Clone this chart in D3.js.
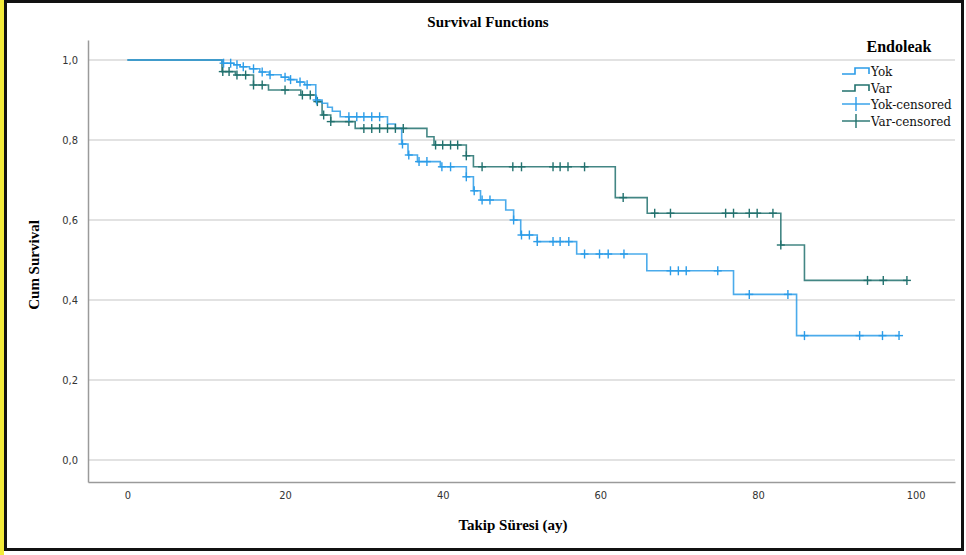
<!DOCTYPE html>
<html>
<head>
<meta charset="utf-8">
<script src="https://cdn.jsdelivr.net/npm/d3@7"></script>
<style>
  body { margin: 0; background: #fff; }
  .tick-label { font-family: 'Liberation Sans Narrow', 'DejaVu Sans Condensed', sans-serif; font-size: 11px; fill: #333; }
  .serif { font-family: 'Liberation Serif', 'DejaVu Serif', serif; fill: #000; }
  .legend-item { font-family: 'DejaVu Serif', 'Liberation Serif', serif; fill: #111; }
</style>
</head>
<body>
<svg id="chart" width="966" height="555"></svg>
<script>
// Yok group: event times and survival after each event
let yokTimes = [12.0, 13.5, 14.3, 15.5, 16.8, 18.0, 19.5, 20.5, 21.5, 22.5, 23.9, 24.7, 25.4, 26.0, 27.0,
                33.0, 34.0, 34.8, 35.6, 36.8, 39.7, 43.0, 43.9, 44.8, 48.0, 49.0, 49.9, 52.0, 57.0, 65.9, 76.9, 84.9];
let yokSurv = [0.992, 0.988, 0.983, 0.978, 0.970, 0.963, 0.957, 0.951, 0.945, 0.938, 0.900, 0.892, 0.882, 0.872, 0.858,
               0.840, 0.829, 0.790, 0.7625, 0.746, 0.733, 0.708, 0.673, 0.650, 0.625, 0.600, 0.5625, 0.546, 0.515, 0.473, 0.414, 0.311];
let yokCensored = [12.2, 13.1, 13.9, 14.7, 16.0, 17.1, 18.1, 20.0, 20.7, 21.9, 22.8, 24.0, 28.1, 29.1, 30.0, 31.0, 32.0,
                   34.9, 35.7, 37.0, 38.0, 39.9, 41.0, 43.0, 44.0, 45.0, 46.0, 49.0, 50.0, 51.0, 52.0, 54.0, 54.9, 56.0,
                   58.0, 59.9, 61.0, 63.0, 68.9, 69.9, 70.9, 74.9, 78.9, 83.8, 85.9, 92.9, 95.8, 97.9];

// Var group
let varTimes = [12.0, 13.7, 16.0, 17.9, 22.0, 23.9, 24.7, 25.8, 28.9, 38.0, 38.9, 43.0, 43.9, 61.9, 65.95, 82.9, 85.9];
let varSurv = [0.971, 0.9625, 0.9375, 0.925, 0.9125, 0.896, 0.8625, 0.846, 0.829, 0.808, 0.7875, 0.7605, 0.733,
               0.656, 0.617, 0.5375, 0.449];
let varCensored = [12.1, 12.9, 13.9, 15.0, 16.0, 17.1, 20.0, 22.2, 23.2, 24.1, 24.9, 25.8, 28.1, 30.0, 31.0, 32.0, 33.0,
                   34.0, 35.0, 39.1, 40.0, 41.0, 41.9, 43.0, 45.0, 48.9, 50.0, 54.0, 54.9, 55.9, 58.0, 62.9, 66.9,
                   68.9, 75.9, 76.9, 78.9, 79.9, 81.9, 82.9, 93.9, 95.9, 98.9];

let xTicks = [0, 20, 40, 60, 80, 100];
let yTicks = [0, 0.2, 0.4, 0.6, 0.8, 1.0];
let legendLabels = ["Yok", "Var", "Yok-censored", "Var-censored"];

let yokColor = "#2b9ce8", varColor = "#22716e";

let svg = d3.select("#chart");

// outer frame like the exported picture
svg.append("rect").attr("x", 0).attr("y", 0).attr("width", 4).attr("height", 555).attr("fill", "#f2ea3a");
svg.append("rect").attr("x", 5.5).attr("y", 1.5).attr("width", 957).attr("height", 548)
    .attr("fill", "none").attr("stroke", "#111").attr("stroke-width", 3);

let x = d3.scaleLinear().domain([-5, 105]).range([88, 955]);
let y = d3.scaleLinear().domain([-0.055, 1.05]).range([482, 40]);

// grid lines
svg.append("g").selectAll("line").data(yTicks).join("line")
    .attr("x1", x.range()[0]).attr("x2", x.range()[1])
    .attr("y1", d => y(d)).attr("y2", d => y(d))
    .attr("stroke", "#d9d9d9").attr("stroke-width", 1.5);

// axes (lines only, labels drawn below)
let yAxis = svg.append("g").attr("transform", `translate(${x.range()[0]},0)`)
    .call(d3.axisLeft(y).tickValues(yTicks).tickSize(0).tickPadding(10).tickFormat(d => d3.format(".1f")(d).replace(".", ",")));
let xAxis = svg.append("g").attr("transform", `translate(0,${y.range()[0]})`)
    .call(d3.axisBottom(x).tickValues(xTicks).tickSize(0).tickPadding(9));
[xAxis, yAxis].forEach(g => {
  g.select(".domain").attr("stroke", "#9a9a9a").attr("stroke-width", 1.5);
  g.selectAll("text").attr("class", "tick-label").attr("font-family", null).attr("font-size", null);
});

function stepPoints(times, surv, censored) {
  let pts = [[0, 1]];
  times.forEach((t, i) => pts.push([t, surv[i]]));
  let end = d3.max([d3.max(times), d3.max(censored)]);
  pts.push([end, surv[surv.length - 1]]);
  return pts;
}

function survAt(times, surv, t) {
  let s = 1;
  times.forEach((tt, i) => { if (tt <= t) s = surv[i]; });
  return s;
}

let line = d3.line().x(d => x(d[0])).y(d => y(d[1])).curve(d3.curveStepAfter);

let groups = [
  {times: yokTimes, surv: yokSurv, cens: yokCensored, color: yokColor},
  {times: varTimes, surv: varSurv, cens: varCensored, color: varColor}
];

// draw Var first so Yok lies on top where they overlap
groups.slice().reverse().forEach(g => {
  svg.append("path")
      .datum(stepPoints(g.times, g.surv, g.cens))
      .attr("d", line)
      .attr("fill", "none")
      .attr("stroke", g.color)
      .attr("stroke-width", 1.6)
      .attr("stroke-opacity", 0.85);
});

groups.slice().reverse().forEach(g => {
  let marks = svg.append("g").selectAll("g").data(g.cens).join("g")
      .attr("transform", d => `translate(${x(d)},${y(survAt(g.times, g.surv, d))})`);
  marks.append("line").attr("x1", 0).attr("x2", 0).attr("y1", -4.5).attr("y2", 4.5)
      .attr("stroke", g.color).attr("stroke-width", 1.4);
  marks.append("line").attr("x1", -4).attr("x2", 4).attr("y1", 0).attr("y2", 0)
      .attr("stroke", g.color).attr("stroke-width", 1.4);
});

// titles
svg.append("text").attr("class", "serif").attr("x", 488).attr("y", 27)
    .attr("text-anchor", "middle").attr("font-weight", "bold").attr("font-size", 15)
    .text("Survival Functions");
svg.append("text").attr("class", "serif").attr("x", 513).attr("y", 530)
    .attr("text-anchor", "middle").attr("font-weight", "bold").attr("font-size", 15)
    .text("Takip Süresi (ay)");
svg.append("text").attr("class", "serif")
    .attr("transform", "translate(39,265) rotate(-90)")
    .attr("text-anchor", "middle").attr("font-weight", "bold").attr("font-size", 15)
    .text("Cum Survival");

// legend
let legend = svg.append("g");
legend.append("text").attr("class", "serif").attr("x", 899).attr("y", 52)
    .attr("text-anchor", "middle").attr("font-weight", "bold").attr("font-size", 16)
    .text("Endoleak");

let rowY = [71, 88, 104, 121];
legendLabels.forEach((lab, i) => {
  let c = i % 2 === 0 ? yokColor : varColor;
  let yy = rowY[i];
  if (i < 2) {
    legend.append("path")
        .attr("d", `M842,${yy + 3}H855V${yy - 3}H869V${yy + 3}`)
        .attr("fill", "none").attr("stroke", c).attr("stroke-width", 1.6);
  } else {
    legend.append("line").attr("x1", 842).attr("x2", 870).attr("y1", yy).attr("y2", yy)
        .attr("stroke", c).attr("stroke-width", 1.4);
    legend.append("line").attr("x1", 856).attr("x2", 856).attr("y1", yy - 7).attr("y2", yy + 7)
        .attr("stroke", c).attr("stroke-width", 1.4);
  }
  legend.append("text").attr("class", "legend-item").attr("x", 871).attr("y", yy + 4.5)
      .attr("font-size", 12).text(lab);
});
</script>
</body>
</html>
